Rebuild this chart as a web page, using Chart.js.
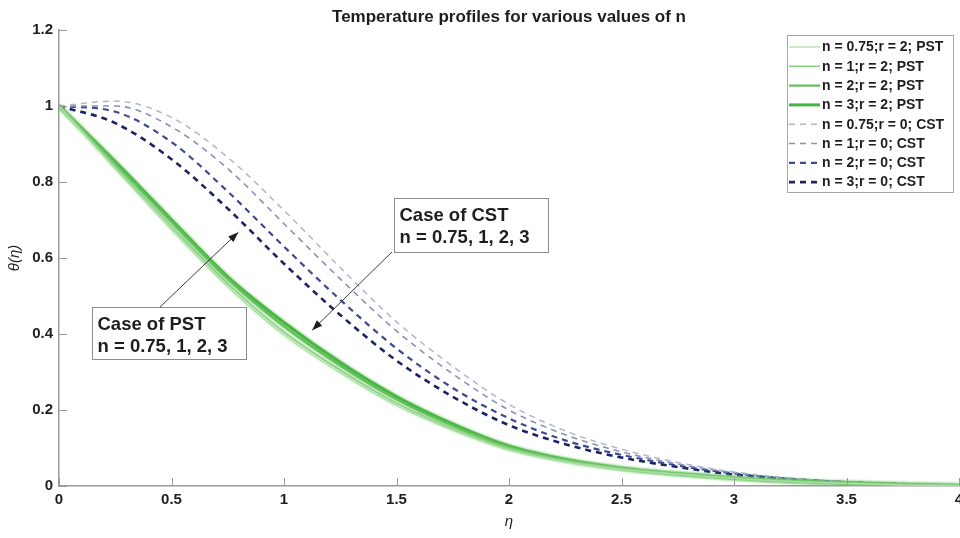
<!DOCTYPE html>
<html>
<head>
<meta charset="utf-8">
<script src="https://cdn.jsdelivr.net/npm/chart.js@4.4.0/dist/chart.umd.min.js"></script>
<style>
  html, body { margin: 0; padding: 0; background: #fff; }
  #wrap { width: 960px; height: 538px; }
</style>
</head>
<body>
<div id="wrap"><canvas id="tempChart" width="960" height="538"></canvas></div>
<script>
// similarity variable
const eta = [0, 0.25, 0.5, 0.75, 1, 1.25, 1.5, 1.75, 2, 2.25, 2.5, 2.75, 3, 3.25, 3.5, 3.75, 4];

// theta(eta), prescribed surface temperature, r = 2
const pst075 = [1, 0.835, 0.675, 0.525, 0.397, 0.298, 0.212, 0.147, 0.095, 0.064, 0.044, 0.031, 0.020, 0.012, 0.007, 0.003, 0.001];
const pst1   = [1, 0.840, 0.683, 0.533, 0.405, 0.305, 0.218, 0.151, 0.098, 0.066, 0.045, 0.031, 0.020, 0.012, 0.007, 0.003, 0.001];
const pst2   = [1, 0.848, 0.695, 0.545, 0.420, 0.317, 0.228, 0.158, 0.102, 0.068, 0.046, 0.032, 0.021, 0.013, 0.008, 0.004, 0.001];
const pst3   = [1, 0.853, 0.700, 0.550, 0.430, 0.325, 0.235, 0.163, 0.105, 0.070, 0.047, 0.032, 0.021, 0.013, 0.008, 0.004, 0.001];

// theta(eta), constant surface temperature, r = 0
const cst075 = [1, 1.013, 0.970, 0.865, 0.725, 0.575, 0.432, 0.315, 0.215, 0.145, 0.097, 0.062, 0.037, 0.021, 0.011, 0.005, 0.001];
const cst1   = [1, 1.000, 0.945, 0.835, 0.690, 0.545, 0.408, 0.295, 0.200, 0.135, 0.090, 0.058, 0.035, 0.020, 0.011, 0.005, 0.001];
const cst2   = [1, 0.985, 0.905, 0.775, 0.630, 0.490, 0.362, 0.258, 0.178, 0.120, 0.082, 0.054, 0.033, 0.019, 0.010, 0.005, 0.001];
const cst3   = [1, 0.955, 0.860, 0.730, 0.585, 0.450, 0.330, 0.235, 0.160, 0.110, 0.075, 0.050, 0.030, 0.018, 0.010, 0.005, 0.001];

const xTicks = [0, 0.5, 1, 1.5, 2, 2.5, 3, 3.5, 4];
const yTicks = [0, 0.2, 0.4, 0.6, 0.8, 1, 1.2];

const FONT = '"Liberation Sans", Arial, Helvetica, sans-serif';
const INK = '#1e1e1e';
const AXIS = '#9a9a9a';

function pts(ys) {
  return eta.map((x, i) => ({ x: x, y: ys[i] }));
}

function line(label, ys, color, width, dash) {
  return {
    label: label,
    data: pts(ys),
    borderColor: color,
    backgroundColor: color,
    borderWidth: width,
    borderDash: dash || [],
    pointRadius: 0,
    fill: false,
    cubicInterpolationMode: 'monotone'
  };
}

const datasets = [
  line('n = 0.75;r = 2; PST', pst075, '#a9dda2', 1.2),
  line('n = 1;r = 2; PST', pst1, '#88d080', 1.6),
  line('n = 2;r = 2; PST', pst2, '#62c05a', 2.2),
  line('n = 3;r = 2; PST', pst3, '#46b43f', 3),
  line('n = 0.75;r = 0; CST', cst075, '#b2b5d0', 1.5, [6, 5]),
  line('n = 1;r = 0; CST', cst1, '#8a90b8', 1.6, [6, 5]),
  line('n = 2;r = 0; CST', cst2, '#3c4a8e', 2.2, [6, 5]),
  line('n = 3;r = 0; CST', cst3, '#1b2463', 2.6, [6, 5])
];

const fmt = v => String(Math.round(v * 10) / 10);

// the solid PST curves are slightly soft
const softGreen = {
  id: 'softGreen',
  beforeDatasetDraw(chart, args) {
    if (args.index > 3) return;
    const ctx = chart.ctx;
    ctx.shadowColor = chart.data.datasets[args.index].borderColor;
    ctx.shadowBlur = 3;
  },
  afterDatasetDraw(chart) {
    chart.ctx.shadowBlur = 0;
    chart.ctx.shadowColor = 'transparent';
  }
};

// MATLAB style ticks pointing into the axes
const innerTicks = {
  id: 'innerTicks',
  afterDraw(chart) {
    const { ctx, chartArea: a, scales } = chart;
    ctx.save();
    ctx.strokeStyle = AXIS;
    ctx.lineWidth = 1;
    ctx.beginPath();
    xTicks.forEach(v => {
      const px = Math.round(scales.x.getPixelForValue(v)) + 0.5;
      ctx.moveTo(px, a.bottom);
      ctx.lineTo(px, a.bottom - 8);
    });
    yTicks.forEach(v => {
      const py = Math.round(scales.y.getPixelForValue(v)) + 0.5;
      ctx.moveTo(a.left, py);
      ctx.lineTo(a.left + 8, py);
    });
    ctx.stroke();
    ctx.restore();
  }
};

// legend box in the upper right corner of the axes
const boxLegend = {
  id: 'boxLegend',
  afterDraw(chart) {
    const ctx = chart.ctx;
    const x0 = 787, y0 = 35, w = 166, h = 157, row = 19.3;
    ctx.save();
    ctx.fillStyle = '#fff';
    ctx.fillRect(x0, y0, w, h);
    ctx.strokeStyle = '#a8a8a8';
    ctx.lineWidth = 1;
    ctx.strokeRect(x0 + 0.5, y0 + 0.5, w, h);
    ctx.font = 'bold 14px ' + FONT;
    ctx.textBaseline = 'middle';
    ctx.textAlign = 'left';
    chart.data.datasets.forEach((ds, i) => {
      const y = y0 + 12 + i * row;
      ctx.strokeStyle = ds.borderColor;
      ctx.lineWidth = ds.borderWidth;
      ctx.setLineDash(ds.borderDash);
      ctx.beginPath();
      ctx.moveTo(x0 + 2, y);
      ctx.lineTo(x0 + 33, y);
      ctx.stroke();
      ctx.setLineDash([]);
      ctx.fillStyle = INK;
      ctx.fillText(ds.label, x0 + 35, y + 0.5);
    });
    ctx.restore();
  }
};

// text boxes with arrows, anchored in data units
const notes = [
  { lines: ['Case of PST', 'n = 0.75, 1, 2, 3'], box: [0.148, 0.471, 0.83, 0.334], from: [0.449, 0.471], to: [0.797, 0.668] },
  { lines: ['Case of CST', 'n = 0.75, 1, 2, 3'], box: [1.49, 0.758, 2.174, 0.616], from: [1.48, 0.616], to: [1.125, 0.41] }
];

const noteBoxes = {
  id: 'noteBoxes',
  afterDatasetsDraw(chart) {
    const { ctx, scales } = chart;
    const X = v => scales.x.getPixelForValue(v);
    const Y = v => scales.y.getPixelForValue(v);
    ctx.save();
    notes.forEach(n => {
      const l = Math.round(X(n.box[0])) + 0.5, t = Math.round(Y(n.box[1])) + 0.5;
      const r = Math.round(X(n.box[2])) + 0.5, b = Math.round(Y(n.box[3])) + 0.5;
      ctx.fillStyle = '#fff';
      ctx.fillRect(l, t, r - l, b - t);
      ctx.strokeStyle = '#8c8c8c';
      ctx.lineWidth = 1;
      ctx.strokeRect(l, t, r - l, b - t);
      ctx.fillStyle = INK;
      ctx.font = 'bold 18.5px ' + FONT;
      ctx.textBaseline = 'middle';
      ctx.textAlign = 'left';
      ctx.fillText(n.lines[0], l + 5, t + 17);
      ctx.fillText(n.lines[1], l + 5, t + 39);

      // arrow
      const x1 = X(n.from[0]), y1 = Y(n.from[1]);
      const x2 = X(n.to[0]), y2 = Y(n.to[1]);
      const ang = Math.atan2(y2 - y1, x2 - x1);
      ctx.strokeStyle = '#3a3a3a';
      ctx.lineWidth = 1;
      ctx.beginPath();
      ctx.moveTo(x1, y1);
      ctx.lineTo(x2, y2);
      ctx.stroke();
      ctx.fillStyle = '#1e1e1e';
      ctx.beginPath();
      ctx.moveTo(x2, y2);
      ctx.lineTo(x2 - 11 * Math.cos(ang - 0.35), y2 - 11 * Math.sin(ang - 0.35));
      ctx.lineTo(x2 - 11 * Math.cos(ang + 0.35), y2 - 11 * Math.sin(ang + 0.35));
      ctx.closePath();
      ctx.fill();
    });
    ctx.restore();
  }
};

new Chart(document.getElementById('tempChart'), {
  type: 'line',
  data: { datasets: datasets },
  plugins: [softGreen, innerTicks, noteBoxes, boxLegend],
  options: {
    responsive: false,
    animation: false,
    devicePixelRatio: 1,
    layout: { padding: { top: 0, right: 1, bottom: 0, left: 0 } },
    plugins: {
      legend: { display: false },
      tooltip: { enabled: false },
      title: {
        display: true,
        fullSize: false,
        text: 'Temperature profiles for various values of n',
        color: INK,
        font: { family: FONT, size: 17, weight: 'bold' },
        padding: { top: 7, bottom: 2.6 }
      }
    },
    scales: {
      x: {
        type: 'linear',
        min: 0,
        max: 4,
        afterBuildTicks: s => { s.ticks = xTicks.map(v => ({ value: v })); },
        afterFit: s => { s.height = 52; s.paddingLeft = 0; s.paddingRight = 0; },
        ticks: { color: INK, font: { family: FONT, size: 15, weight: 'bold' }, padding: 5, maxRotation: 0, autoSkip: false, callback: fmt },
        grid: { display: false, drawTicks: false },
        border: { display: true, color: AXIS, width: 1.5 },
        title: { display: true, text: 'η', color: INK, font: { family: FONT, size: 15, style: 'italic' }, padding: { top: 0, bottom: 7 } }
      },
      y: {
        type: 'linear',
        min: 0,
        max: 1.2,
        afterBuildTicks: s => { s.ticks = yTicks.map(v => ({ value: v })); },
        afterFit: s => { s.width = 59; s.paddingTop = 0; s.paddingBottom = 0; },
        ticks: { color: INK, font: { family: FONT, size: 15, weight: 'bold' }, padding: 6, callback: fmt },
        grid: { display: false, drawTicks: false },
        border: { display: true, color: AXIS, width: 1.5 },
        title: { display: true, text: 'θ(η)', color: INK, font: { family: FONT, size: 15, style: 'italic' }, padding: { top: 6, bottom: 0 } }
      }
    }
  }
});
</script>
</body>
</html>
